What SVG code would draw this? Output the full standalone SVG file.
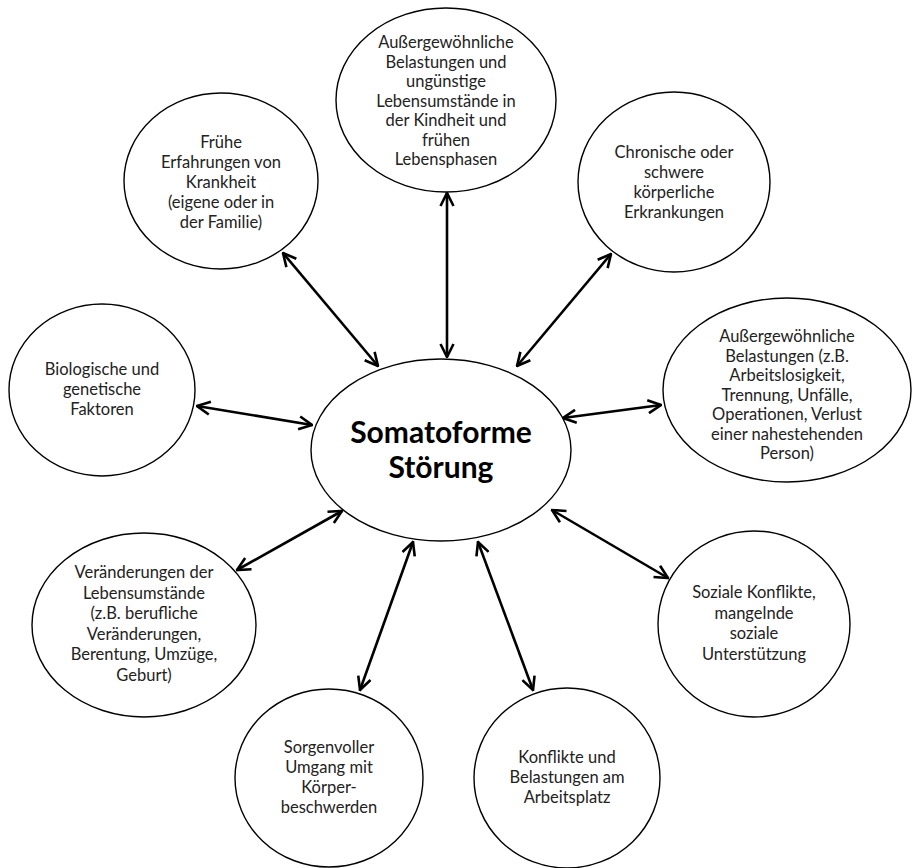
<svg xmlns="http://www.w3.org/2000/svg" width="912" height="868" viewBox="0 0 912 868">
<defs>
<style>
.n{fill:#fff;stroke:#000;stroke-width:1.4}
.t{font-family:Lato,"Open Sans","Liberation Sans",sans-serif;font-size:16.5px;fill:#222;text-anchor:middle}
.c{font-family:Lato,"Open Sans","Liberation Sans",sans-serif;font-size:30px;font-weight:bold;fill:#000;text-anchor:middle}
.a{stroke:#000;stroke-width:2.6;fill:none;marker-start:url(#h);marker-end:url(#h)}
</style>
<marker id="h" viewBox="0 0 12 12" refX="11" refY="6" markerWidth="6" markerHeight="6" orient="auto-start-reverse" markerUnits="strokeWidth">
<path d="M1,1 L11,6 L1,11" fill="none" stroke="#000" stroke-width="2"/>
</marker>
</defs>
<rect width="912" height="868" fill="#fff"/>
<g id="connectors">
<line class="a" x1="283" y1="253" x2="378" y2="366"/>
<line class="a" x1="447" y1="193" x2="447" y2="357"/>
<line class="a" x1="611" y1="254" x2="517" y2="366"/>
<line class="a" x1="197" y1="406" x2="312" y2="425"/>
<line class="a" x1="563" y1="418" x2="661" y2="405"/>
<line class="a" x1="237" y1="570" x2="342" y2="511"/>
<line class="a" x1="360" y1="690" x2="413" y2="542"/>
<line class="a" x1="533" y1="690" x2="478" y2="542"/>
<line class="a" x1="668" y1="578" x2="552" y2="510"/>
</g>
<g id="center">
<ellipse class="n" cx="441" cy="450" rx="130" ry="91"/>
<text class="c" x="441" y="443">Somatoforme</text>
<text class="c" x="441" y="478">Störung</text>
</g>
<g id="top">
<ellipse class="n" cx="446" cy="100" rx="110" ry="92"/>
<text class="t" x="446" y="48">Außergewöhnliche</text>
<text class="t" x="446" y="67.5">Belastungen und</text>
<text class="t" x="446" y="87">ungünstige</text>
<text class="t" x="446" y="106.5">Lebensumstände in</text>
<text class="t" x="446" y="126">der Kindheit und</text>
<text class="t" x="446" y="145.5">frühen</text>
<text class="t" x="446" y="165">Lebensphasen</text>
</g>
<g id="topleft">
<ellipse class="n" cx="221" cy="181" rx="97" ry="88"/>
<text class="t" x="221" y="148">Frühe</text>
<text class="t" x="221" y="168">Erfahrungen von</text>
<text class="t" x="221" y="188">Krankheit</text>
<text class="t" x="221" y="208">(eigene oder in</text>
<text class="t" x="221" y="228">der Familie)</text>
</g>
<g id="topright">
<ellipse class="n" cx="674" cy="182" rx="96" ry="90"/>
<text class="t" x="674" y="158">Chronische oder</text>
<text class="t" x="674" y="178">schwere</text>
<text class="t" x="674" y="198">körperliche</text>
<text class="t" x="674" y="218">Erkrankungen</text>
</g>
<g id="left">
<ellipse class="n" cx="102" cy="390" rx="93" ry="86"/>
<text class="t" x="102" y="375">Biologische und</text>
<text class="t" x="102" y="395">genetische</text>
<text class="t" x="102" y="415">Faktoren</text>
</g>
<g id="right">
<ellipse class="n" cx="787" cy="390" rx="124" ry="92"/>
<text class="t" x="787" y="342">Außergewöhnliche</text>
<text class="t" x="787" y="361.5">Belastungen (z.B.</text>
<text class="t" x="787" y="381">Arbeitslosigkeit,</text>
<text class="t" x="787" y="400.5">Trennung, Unfälle,</text>
<text class="t" x="787" y="420">Operationen, Verlust</text>
<text class="t" x="787" y="439.5">einer nahestehenden</text>
<text class="t" x="787" y="459">Person)</text>
</g>
<g id="bottomleft">
<ellipse class="n" cx="144" cy="625" rx="112" ry="92"/>
<text class="t" x="144" y="578">Veränderungen der</text>
<text class="t" x="144" y="598.5">Lebensumstände</text>
<text class="t" x="144" y="619">(z.B. berufliche</text>
<text class="t" x="144" y="639.5">Veränderungen,</text>
<text class="t" x="144" y="660">Berentung, Umzüge,</text>
<text class="t" x="144" y="680.5">Geburt)</text>
</g>
<g id="bottomright">
<ellipse class="n" cx="754" cy="624" rx="96" ry="93"/>
<text class="t" x="754" y="598">Soziale Konflikte,</text>
<text class="t" x="754" y="618.5">mangelnde</text>
<text class="t" x="754" y="639">soziale</text>
<text class="t" x="754" y="659.5">Unterstützung</text>
</g>
<g id="bottomcenterleft">
<ellipse class="n" cx="329" cy="778" rx="94" ry="89"/>
<text class="t" x="329" y="753">Sorgenvoller</text>
<text class="t" x="329" y="773">Umgang mit</text>
<text class="t" x="329" y="793">Körper-</text>
<text class="t" x="329" y="813">beschwerden</text>
</g>
<g id="bottomcenterright">
<ellipse class="n" cx="567" cy="778" rx="93" ry="90"/>
<text class="t" x="567" y="763">Konflikte und</text>
<text class="t" x="567" y="783">Belastungen am</text>
<text class="t" x="567" y="803">Arbeitsplatz</text>
</g>
</svg>
